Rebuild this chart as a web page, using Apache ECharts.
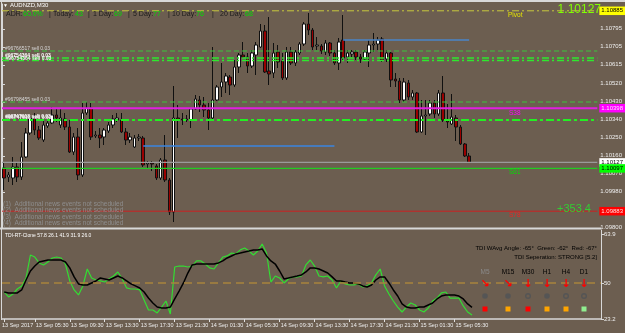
<!DOCTYPE html>
<html><head><meta charset="utf-8">
<script src="https://cdn.jsdelivr.net/npm/echarts@6/dist/echarts.min.js"></script>
<style>html,body{margin:0;padding:0;background:#6c5e50;}#c{width:625px;height:333px;}</style>
</head><body><div id="c"></div><script>
// ---- candle data (AUDNZD M30) ----
const open = [1.10099,1.10054,1.10049,1.10104,1.10054,1.10154,1.10274,1.10349,1.10289,1.10239,
1.10309,1.10324,1.10364,1.10314,1.10344,1.10304,1.10179,1.10254,1.10064,1.10374,
1.10399,1.10259,1.10264,1.10254,1.10284,1.10314,1.10339,1.10339,1.10279,1.10239,
1.10204,1.10249,1.10249,1.10119,1.10124,1.10109,1.10049,1.10139,1.10039,1.09879,
1.10349,1.10344,1.10339,1.10339,1.10394,1.10439,1.10414,1.10389,1.10349,1.10439,
1.10504,1.10529,1.10554,1.10514,1.10604,1.10664,1.10654,1.10609,1.10664,1.10704,
1.10784,1.10584,1.10574,1.10679,1.10634,1.10549,1.10679,1.10624,1.10674,1.10719,
1.10819,1.10789,1.10709,1.10709,1.10679,1.10724,1.10674,1.10624,1.10739,1.10654,
1.10669,1.10679,1.10654,1.10644,1.10674,1.10714,1.10719,1.10744,1.10644,1.10674,
1.10544,1.10534,1.10439,1.10524,1.10454,1.10474,1.10279,1.10359,1.10369,1.10424,
1.10369,1.10474,1.10339,1.10319,1.10349,1.10304,1.10219,1.10159];
const close = [1.10049,1.10064,1.10104,1.10054,1.10154,1.10274,1.10349,1.10289,1.10249,1.10314,
1.10324,1.10364,1.10349,1.10349,1.10304,1.10179,1.10254,1.10064,1.10374,1.10399,
1.10254,1.10264,1.10249,1.10289,1.10314,1.10344,1.10349,1.10279,1.10239,1.10254,
1.10249,1.10254,1.10114,1.10124,1.10119,1.10049,1.10139,1.10039,1.09879,1.10349,
1.10339,1.10339,1.10344,1.10394,1.10444,1.10414,1.10389,1.10349,1.10439,1.10504,
1.10529,1.10559,1.10514,1.10604,1.10664,1.10654,1.10609,1.10674,1.10714,1.10784,
1.10579,1.10569,1.10674,1.10629,1.10549,1.10679,1.10624,1.10679,1.10719,1.10819,
1.10789,1.10704,1.10714,1.10684,1.10724,1.10674,1.10624,1.10729,1.10649,1.10674,
1.10679,1.10654,1.10644,1.10679,1.10714,1.10719,1.10739,1.10639,1.10674,1.10539,
1.10534,1.10439,1.10529,1.10454,1.10474,1.10279,1.10359,1.10364,1.10424,1.10369,
1.10474,1.10339,1.10329,1.10354,1.10304,1.10219,1.10159,1.10127];
const high = [1.10129,1.10079,1.10154,1.10129,1.10229,1.10299,1.10364,1.10374,1.10309,1.10339,
1.10334,1.10404,1.10399,1.10399,1.10374,1.10339,1.10274,1.10299,1.10424,1.10429,
1.10424,1.10284,1.10299,1.10299,1.10329,1.10364,1.10374,1.10374,1.10299,1.10274,
1.10264,1.10269,1.10259,1.10134,1.10134,1.10119,1.10149,1.10264,1.10049,1.10509,
1.10414,1.10374,1.10364,1.10399,1.10464,1.10459,1.10454,1.10424,1.10704,1.10514,
1.10624,1.10574,1.10564,1.10639,1.10674,1.10729,1.10674,1.10689,1.10729,1.10819,
1.10814,1.10854,1.10724,1.10714,1.10674,1.10704,1.10704,1.10689,1.10729,1.10829,
1.10874,1.10799,1.10754,1.10719,1.10739,1.10729,1.10689,1.10749,1.10864,1.10689,
1.10689,1.10689,1.10669,1.10689,1.10739,1.10774,1.10754,1.10754,1.10689,1.10679,
1.10574,1.10549,1.10549,1.10539,1.10489,1.10479,1.10439,1.10439,1.10439,1.10439,
1.10489,1.10559,1.10419,1.10469,1.10364,1.10314,1.10224,1.10174];
const low = [1.09989,1.10029,1.10014,1.10029,1.10039,1.10149,1.10264,1.10264,1.10239,1.10229,
1.10299,1.10319,1.10329,1.10299,1.10289,1.10174,1.10164,1.10039,1.10054,1.10364,
1.10239,1.10249,1.10199,1.10214,1.10274,1.10299,1.10329,1.10274,1.10214,1.10224,
1.10199,1.10234,1.10104,1.10099,1.10084,1.10039,1.10039,1.10029,1.09864,1.09829,
1.10249,1.10314,1.10329,1.10299,1.10389,1.10379,1.10354,1.10289,1.10334,1.10434,
1.10454,1.10474,1.10464,1.10504,1.10574,1.10649,1.10574,1.10599,1.10564,1.10699,
1.10574,1.10514,1.10549,1.10599,1.10539,1.10539,1.10614,1.10609,1.10664,1.10709,
1.10764,1.10689,1.10689,1.10669,1.10664,1.10659,1.10614,1.10589,1.10639,1.10624,
1.10654,1.10639,1.10624,1.10639,1.10604,1.10679,1.10689,1.10629,1.10629,1.10504,
1.10504,1.10424,1.10429,1.10439,1.10439,1.10274,1.10274,1.10264,1.10359,1.10349,
1.10359,1.10329,1.10299,1.10314,1.10234,1.10214,1.10154,1.10124];

// ---- TDI indicator ----
const tdiGreen = [43.3,39.6,41.8,45.5,47.8,53.7,70.8,69.3,64.9,63.4,
65.6,68.6,69.3,68.6,64.1,51.5,44.8,41.1,47.8,60.4,
53.7,52.2,51.5,50.7,53.0,55.2,58.2,53.0,46.3,45.5,
45.5,44.8,37.4,29.9,29.9,27.7,32.1,36.6,26.9,61.9,
62.6,62.6,61.9,62.6,66.4,66.4,64.1,61.2,60.4,64.9,
69.3,70.1,72.3,71.6,74.6,76.0,73.8,70.8,73.8,79.0,
72.3,50.7,55.2,53.7,50.0,53.0,54.5,54.5,55.2,63.4,
67.1,62.6,55.2,54.5,55.2,52.2,46.3,51.5,49.3,48.5,
48.5,49.3,47.0,47.8,50.0,56.0,60.4,47.8,41.8,36.6,
32.1,28.4,32.1,35.1,33.6,29.9,28.4,31.4,36.6,38.8,
42.6,43.3,38.8,38.8,38.8,32.9,28.4,26.1];
const tdiBlack = [43.3,42.6,42.6,42.6,44.8,52.2,58.9,62.6,65.6,66.4,
67.1,67.1,67.1,67.1,65.6,61.2,54.5,49.3,48.5,48.5,
50.0,51.5,53.7,53.0,52.2,53.7,55.2,53.7,51.5,49.3,
47.8,46.3,43.3,38.8,35.1,32.1,31.4,31.4,32.1,38.1,
44.0,50.0,57.4,63.4,64.1,64.1,64.1,64.1,64.1,64.9,
66.4,68.6,70.1,71.6,72.3,73.1,73.8,74.6,74.6,75.3,
70.1,66.4,64.1,58.9,53.0,53.7,54.5,55.2,56.0,58.2,
61.2,61.2,60.4,58.9,57.4,54.5,51.5,51.5,50.7,50.0,
50.0,49.3,47.8,47.0,48.5,52.2,54.5,54.5,50.0,44.8,
40.3,34.4,32.1,31.4,31.4,32.1,32.1,33.6,35.1,38.1,
40.3,41.1,41.1,41.1,40.3,38.1,34.4,31.9];
const tdiMid = 50;

// ---- axes / ticks ----
const slotCount = 137;
const timeLabels = ["13 Sep 2017","13 Sep 05:30","13 Sep 09:30","13 Sep 13:30","13 Sep 17:30","13 Sep 21:30","14 Sep 01:30","14 Sep 05:30","14 Sep 09:30","14 Sep 13:30","14 Sep 17:30","14 Sep 21:30","15 Sep 01:30","15 Sep 05:30"];
const timeTickIndex = [0,7,15,23,31,39,47,55,63,71,79,87,95,103];
const priceTicks = [1.10795,1.10705,1.10615,1.10520,1.10430,1.10340,1.10250,1.10160,1.10070,1.09980,1.09800];
const tdiTickValues = [23.2, 50, 86.1];
const tdiTickLabels = ["23.2","50","63.9"];

// ---- levels ----
const pivotLevel = 1.10885;
const s38Level = 1.10398;
const s61Level = 1.10097;
const s78Level = 1.09883;
const currentPrice = 1.10127;
const orderThinLevels = [1.10684, 1.10429];
const orderBoldLevels = [1.10649, 1.10636, 1.10339];
const blueUpper = [78, 107, 1.10739];
const blueLower = [32, 76, 1.10209];
const orderLabels = ["#96766517 sell 0.03","#96754364 sell 0.03","#96798455 sell 0.03","#96747918 sell 0.03"];
const newsLines = ["(1)  Additional news events not scheduled","(2)  Additional news events not scheduled","(3)  Additional news events not scheduled","(4)  Additional news events not scheduled"];
const adrParts = [["ADR:",6,0],["60.0%",23,1],["|",49,0],["Today:",53,0],["43",75,1],["|",88,0],["1 Day:",93,0],["69",114,1],["|",128,0],["5 Day:",133,0],["77",153,1],["|",168,0],["10 Day:",172,0],["76",196,1],["|",212,0],["20 Day:",220,0],["68",245,1]];
const tfNames = ["M5","M15","M30","H1","H4","D1"];
const tfArrows = ["↘","↘","↓","↓","↓","↓"];
const tfDotFilled = [true,true,false,true,false,false];
const tfSquare = ["#ff0000","#ffa500","#ff0000","#ffa500","#ffa500","#90ee90"];
const tfX = [485,508,528,547,566,584];

const cats = []; for (let i = 0; i < slotCount; i++) cats.push(String(i));
const tickSet = new Set(timeTickIndex);
const candles = open.map((o, i) => [o, close[i], low[i], high[i]]);

const FF = 'Liberation Sans, Arial, sans-serif';
function T(x, y, text, fill, size, extra) {
  return Object.assign({ type: 'text', x: x, y: y, silent: true, z: 50,
    style: Object.assign({ text: text, fill: fill, fontSize: size, fontFamily: FF, verticalAlign: 'middle', align: 'left' }, extra || {}) });
}
const g = [];
g.push({ type: 'rect', shape: { x: 0, y: 0, width: 625, height: 2 }, style: { fill: '#d8d8d8' }, silent: true });
g.push({ type: 'rect', shape: { x: 1, y: 0, width: 1, height: 320 }, style: { fill: '#d8d8d8' }, silent: true });
g.push({ type: 'rect', shape: { x: 0, y: 227.5, width: 601, height: 2 }, style: { fill: '#d8d8d8' }, silent: true });
g.push(T(3, 5.5, '▼', '#ffffff', 5));
g.push(T(10, 5.5, 'AUDNZD,M30', '#ffffff', 6));
adrParts.forEach(p => g.push(T(p[1], 14, p[0], p[2] ? '#00dd00' : '#1a1a1a', 7)));
g.push(T(5, 48.5, orderLabels[0], '#d8d8d8', 5));
g.push(T(5, 56, orderLabels[1], '#ffffff', 5, { fontWeight: 'bold' }));
g.push(T(5.5, 58.5, orderLabels[1], '#f0f0f0', 5, { fontWeight: 'bold' }));
g.push(T(5, 99.5, orderLabels[2], '#d8d8d8', 5));
g.push(T(5, 116.5, orderLabels[3], '#ffffff', 5, { fontWeight: 'bold' }));
g.push(T(5.5, 118, orderLabels[3], '#f0f0f0', 5, { fontWeight: 'bold' }));
newsLines.forEach((s, k) => g.push(T(3, [204, 210.5, 217, 223.5][k], s, '#8e8e8e', 6.5)));
g.push(T(508, 15.5, 'Pivot', '#e6e600', 6.5));
g.push(T(601, 9.5, currentPrice.toFixed(5), '#80ff00', 12, { align: 'right' }));
g.push(T(509, 113, 'S38', '#ff00ff', 6.5));
g.push(T(509, 172.5, 'S61', '#00e000', 6.5));
g.push(T(509, 215.5, 'S78', '#ee2222', 6.5));
g.push(T(557, 209, '+353.4', '#33cc33', 11));
g.push(T(5, 236, 'TDI-RT-Clone 57.8 26.1 41.9 31.9 26.0', '#ffffff', 5));
g.push(T(597, 248.5, 'TDI WAvg Angle: -65°  Green: -62°  Red: -67°', '#000000', 6, { align: 'right' }));
g.push(T(597, 257, 'TDI Seperation: STRONG [5.2]', '#000000', 6, { align: 'right' }));
tfNames.forEach((n, k) => {
  const x = tfX[k];
  g.push(T(x, 272, n, k === 0 ? '#8a8a8a' : '#000000', 6.5, { align: 'center' }));
  g.push(T(x, 284.5, tfArrows[k], '#ff0000', 11, { align: 'center', fontWeight: 'bold', fontFamily: 'DejaVu Sans' }));
  g.push({ type: 'circle', shape: { cx: x, cy: 296, r: tfDotFilled[k] ? 2.8 : 2.3 }, silent: true, z: 50,
    style: tfDotFilled[k] ? { fill: '#555555' } : { fill: 'none', stroke: '#555555', lineWidth: 1.4 } });
  g.push({ type: 'rect', shape: { x: x - 2.5, y: 306.5, width: 5, height: 5 }, silent: true, z: 50, style: { fill: tfSquare[k] } });
});

function level(v, color, type, width, boxBg, boxText) {
  const s = { type: 'line', xAxisIndex: 2, yAxisIndex: 0, data: [[0, v], [1, v]], showSymbol: false, silent: true, z: 4,
    lineStyle: { color: color, type: type, width: width }, animation: false };
  if (boxBg) s.endLabel = { show: true, formatter: v.toFixed(5), backgroundColor: boxBg, color: boxText, distance: 2,
    fontSize: 6, fontFamily: FF, padding: [1.5, 3, 1, 2] };
  return s;
}
function segment(seg, color) {
  return { type: 'line', xAxisIndex: 0, yAxisIndex: 0, data: [[seg[0], seg[2]], [seg[1], seg[2]]], showSymbol: false, silent: true, z: 4,
    lineStyle: { color: color, width: 1.5 }, animation: false };
}
const dashDot = [7, 3, 2, 3];
const levelSeries = [
  level(orderThinLevels[0], '#3cc23c', [5, 3], 1),
  level(orderBoldLevels[0], '#2ee82e', dashDot, 1.5),
  level(orderBoldLevels[1], '#2ee82e', dashDot, 1.5),
  level(orderThinLevels[1], '#3cc23c', [5, 3], 1),
  level(orderBoldLevels[2], '#22f022', [8, 3, 3, 3], 2),
  segment(blueUpper, '#4a86c8'),
  segment(blueLower, '#3a86e0'),
  level(pivotLevel, '#c8c83c', dashDot, 1, '#ffff00', '#000000'),
  level(s38Level, '#e020e0', 'solid', 2, '#ff00ff', '#ffe0ff'),
  level(currentPrice, '#9a9a9a', 'solid', 1.2, '#ffffff', '#000000'),
  level(s61Level, '#22cc22', 'solid', 1.2, '#00ff00', '#000000'),
  level(s78Level, '#cc2020', 'solid', 1, '#ff0000', '#ffe0e0')
];

const chart = echarts.init(document.getElementById('c'), null, { renderer: 'canvas' });
chart.setOption({
  animation: false,
  backgroundColor: '#6c5e50',
  grid: [
    { left: 2, right: 24, top: 4, height: 224 },
    { left: 2, right: 24, top: 230, height: 89 }
  ],
  xAxis: [
    { type: 'category', gridIndex: 0, data: cats, boundaryGap: true, axisLine: { show: false }, axisTick: { show: false }, axisLabel: { show: false }, splitLine: { show: false } },
    { type: 'category', gridIndex: 1, data: cats, boundaryGap: true,
      axisLine: { show: true, lineStyle: { color: '#d8d8d8', width: 1.5 } },
      axisTick: { show: true, alignWithLabel: true, length: 3, interval: (i) => tickSet.has(i), lineStyle: { color: '#e0e0e0' } },
      axisLabel: { show: false },
      splitLine: { show: false } },
    { type: 'value', gridIndex: 0, min: 0, max: 1, show: false }
  ],
  yAxis: [
    { type: 'value', gridIndex: 0, position: 'right', min: 1.09799, max: 1.10919, scale: true, splitLine: { show: false },
      axisLine: { show: true, lineStyle: { color: '#d8d8d8' } },
      axisTick: { show: true, length: 3, customValues: priceTicks, lineStyle: { color: '#d8d8d8' } },
      axisLabel: { show: true, customValues: priceTicks, formatter: (v) => v.toFixed(5), color: '#eeeeee', fontSize: 6, fontFamily: FF, margin: 3 } },
    { type: 'value', gridIndex: 1, position: 'right', min: 23.2, max: 89.4, splitLine: { show: false },
      axisLine: { show: true, lineStyle: { color: '#d8d8d8' } },
      axisTick: { show: true, length: 3, customValues: tdiTickValues, lineStyle: { color: '#d8d8d8' } },
      axisLabel: { show: true, customValues: tdiTickValues, formatter: (v) => tdiTickLabels[tdiTickValues.indexOf(v)], color: '#eeeeee', fontSize: 6, fontFamily: FF, margin: 3 } }
  ],
  series: [
    { type: 'candlestick', xAxisIndex: 0, yAxisIndex: 0, data: candles, barWidth: 3, z: 3,
      itemStyle: { color: '#ffffff', color0: '#9a0000', borderColor: '#101010', borderColor0: '#101010', borderWidth: 1 } },
    ...levelSeries,
    { type: 'line', xAxisIndex: 1, yAxisIndex: 1, data: tdiGreen, showSymbol: false, lineStyle: { color: '#33dd33', width: 1.2 },
      markLine: { silent: true, symbol: 'none', data: [{ yAxis: tdiMid, lineStyle: { color: '#a8843c', type: [8, 5], width: 1.5 }, label: { show: false } }] } },
    { type: 'line', xAxisIndex: 1, yAxisIndex: 1, data: tdiBlack, showSymbol: false, lineStyle: { color: '#000000', width: 1.5 } }
  ]
});
// time-axis labels placed at the axis ticks through the library's own scale
timeTickIndex.forEach((k, j) => {
  const px = chart.convertToPixel({ xAxisIndex: 1 }, k);
  g.push(T(j === 0 ? 2 : px + 1, 325.5, timeLabels[j], '#eeeeee', 5.5));
});
chart.setOption({ graphic: g });
</script></body></html>
